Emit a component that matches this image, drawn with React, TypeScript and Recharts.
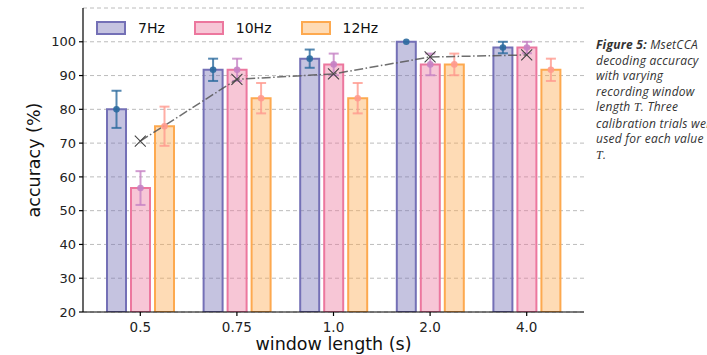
import {
  ComposedChart,
  Bar,
  Line,
  XAxis,
  YAxis,
  CartesianGrid,
  ErrorBar,
  LabelList,
  Label,
} from "recharts";

const windows = ["0.5", "0.75", "1.0", "2.0", "4.0"];

const acc7 = [80, 91.7, 95, 100, 98.3];
const err7 = [5.5, 3.3, 2.7, 0, 1.7];
const acc10 = [56.7, 91.7, 93.3, 93.3, 98.3];
const err10 = [5, 3.3, 3.2, 3.2, 1.7];
const acc12 = [75, 83.3, 83.3, 93.3, 91.7];
const err12 = [5.8, 4.5, 4.5, 3.2, 3.3];
const meanAcc = [70.6, 88.9, 90.5, 95.5, 96.1];

const yTicks = [20, 30, 40, 50, 60, 70, 80, 90, 100];

const SERIES = [
  { key: "v7", err: "e7", name: "7Hz", stroke: "#7470b6", fill: "#7470b6", errColor: "#2b6a9e" },
  { key: "v10", err: "e10", name: "10Hz", stroke: "#ec779e", fill: "#ec779e", errColor: "#c582c4" },
  { key: "v12", err: "e12", name: "12Hz", stroke: "#fda94f", fill: "#fda94f", errColor: "#ff9a8e" },
];

const data = windows.map((w, i) => ({
  window: w,
  v7: acc7[i],
  e7: err7[i],
  v10: acc10[i],
  e10: err10[i],
  v12: acc12[i],
  e12: err12[i],
  mean: meanAcc[i],
}));

const FONT = "'DejaVu Sans', sans-serif";

const CrossDot = (props: any) => {
  const { cx, cy, index } = props;
  const s = 5.5;
  return (
    <path
      key={`x-${index}`}
      d={`M${cx - s},${cy - s}L${cx + s},${cy + s}M${cx - s},${cy + s}L${cx + s},${cy - s}`}
      stroke="#444"
      strokeWidth={1.1}
      fill="none"
    />
  );
};

const meanDot = (color: string) => (props: any) => {
  const { x, y, width, index } = props;
  return <circle key={`d-${index}`} cx={x + width / 2} cy={y} r={3.3} fill={color} fillOpacity={0.9} />;
};

export default function App() {
  return (
    <div
      style={{
        position: "absolute",
        left: 0,
        top: 0,
        width: 707,
        height: 355,
        overflow: "hidden",
        background: "#fff",
        fontFamily: FONT,
      }}
    >
      <ComposedChart
        width={590}
        height={355}
        data={data}
        margin={{ top: 8, right: 6, bottom: 0, left: 0 }}
        barSize={19}
        barGap={5}
      >
        <CartesianGrid
          vertical={false}
          stroke="#b4b4b4"
          strokeDasharray="4 3"
          strokeWidth={0.9}
        />
        <XAxis
          dataKey="window"
          height={43}
          padding={{ left: 9, right: 9 }}
          tickSize={4}
          tickMargin={6}
          stroke="#000"
          strokeWidth={1.2}
          tick={{ fontSize: 13.5, fill: "#222", fontFamily: FONT }}
        >
          <Label
            content={({ viewBox }: any) => (
              <text
                x={viewBox.x + viewBox.width / 2}
                y={viewBox.y + viewBox.height - 5}
                textAnchor="middle"
                fontSize={17.5}
                fill="#111"
                fontFamily={FONT}
              >
                window length (s)
              </text>
            )}
          />
        </XAxis>
        <YAxis
          width={83}
          domain={[20, 110]}
          ticks={yTicks}
          interval={0}
          allowDataOverflow
          tickSize={4}
          tickMargin={3}
          stroke="#000"
          strokeWidth={1.2}
          tick={{ fontSize: 13, fill: "#222", fontFamily: FONT }}
        >
          <Label
            content={({ viewBox }: any) => {
              const cy = viewBox.y + viewBox.height / 2;
              return (
                <text
                  x={40}
                  y={cy}
                  transform={`rotate(-90 40 ${cy})`}
                  textAnchor="middle"
                  fontSize={17.5}
                  fill="#111"
                  fontFamily={FONT}
                >
                  accuracy (%)
                </text>
              );
            }}
          />
        </YAxis>
        {SERIES.map((s) => (
          <Bar
            key={s.key}
            dataKey={s.key}
            name={s.name}
            fill={s.fill}
            fillOpacity={0.42}
            stroke={s.stroke}
            strokeWidth={2}
            isAnimationActive={false}
          >
            <ErrorBar
              dataKey={s.err}
              width={5}
              stroke={s.errColor}
              strokeWidth={2}
              strokeOpacity={0.8}
              direction="y"
            />
            <LabelList dataKey={s.key} content={meanDot(s.errColor)} />
          </Bar>
        ))}
        <Line
          dataKey="mean"
          stroke="#555"
          strokeOpacity={0.85}
          strokeWidth={1.5}
          strokeDasharray="9 2.5 1.5 2.5"
          dot={CrossDot}
          activeDot={false}
          isAnimationActive={false}
        />
      </ComposedChart>

      <div
        style={{
          position: "absolute",
          left: 96,
          top: 20,
          display: "flex",
          alignItems: "center",
          fontSize: 14,
          color: "#111",
        }}
      >
        {SERIES.map((s) => (
          <div key={s.key} style={{ display: "flex", alignItems: "center", marginRight: 29 }}>
            <div
              style={{
                width: 26,
                height: 10,
                border: `2px solid ${s.stroke}`,
                background: s.fill + "6b",
                marginRight: 12,
              }}
            />
            <span>{s.name}</span>
          </div>
        ))}
      </div>

      <div
        style={{
          position: "absolute",
          left: 596,
          top: 37,
          fontFamily: "'Open Sans', sans-serif",
          fontStyle: "italic",
          fontSize: 12,
          letterSpacing: "0.25px",
          lineHeight: "15.5px",
          color: "#333",
          whiteSpace: "nowrap",
        }}
      >
        <div>
          <b>Figure 5:</b> MsetCCA
        </div>
        <div>decoding accuracy</div>
        <div>with varying</div>
        <div>recording window</div>
        <div>
          length <span style={{ fontFamily: "'Liberation Serif', serif" }}>T</span>. Three
        </div>
        <div>calibration trials were</div>
        <div>used for each value</div>
        <div>
          <span style={{ fontFamily: "'Liberation Serif', serif" }}>T</span>.
        </div>
      </div>
    </div>
  );
}
